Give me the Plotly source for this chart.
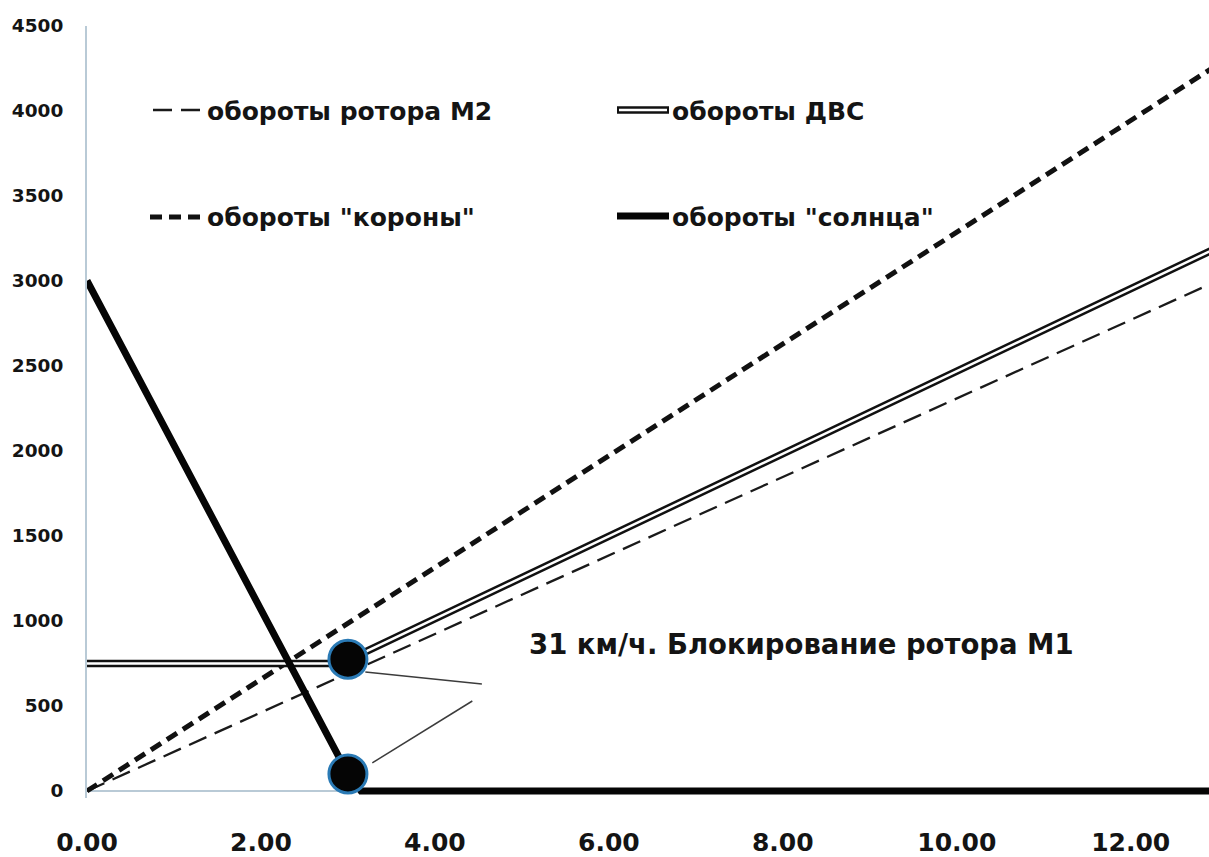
import plotly.graph_objects as go

# ---- data ----
m2_x = [0, 13]
m2_y = [0, 3000]
corona_x = [0, 13]
corona_y = [0, 4270]
ice_x = [0, 3, 3, 13]
ice_y = [750, 750, 770, 3195]
sun_x = [0, 3, 3.15, 13]
sun_y = [3000, 100, 0, 0]
point_x = [3, 3]
point_y = [775, 100]
x_ticks = [0, 2, 4, 6, 8, 10, 12]
y_ticks = [0, 500, 1000, 1500, 2000, 2500, 3000, 3500, 4000, 4500]
names = ["обороты ротора М2", "обороты ДВС", 'обороты "короны"', 'обороты "солнца"']
note_text = "31 км/ч. Блокирование ротора М1"

W, H = 1209, 857
FONT = "DejaVu Sans"
TXT = "#141414"
AX = "#b9cad6"

def X(px):
    return px / W

def Y(py):
    return 1 - py / H

fig = go.Figure()
fig.add_trace(go.Scatter(x=m2_x, y=m2_y, mode="lines", name=names[0], showlegend=False,
                         line=dict(color="#1a1a1a", width=2.3, dash="19px,9px")))
fig.add_trace(go.Scatter(x=corona_x, y=corona_y, mode="lines", name=names[2], showlegend=False,
                         line=dict(color="#111111", width=5, dash="12px,7px")))
fig.add_trace(go.Scatter(x=ice_x, y=ice_y, mode="lines", name=names[1], showlegend=False,
                         line=dict(color="#111111", width=7.5)))
fig.add_trace(go.Scatter(x=ice_x, y=ice_y, mode="lines", showlegend=False, hoverinfo="skip",
                         line=dict(color="white", width=2.5)))
fig.add_trace(go.Scatter(x=sun_x, y=sun_y, mode="lines", name=names[3], showlegend=False,
                         line=dict(color="#050505", width=7)))
fig.add_trace(go.Scatter(x=point_x, y=point_y, mode="markers", showlegend=False, cliponaxis=False,
                         marker=dict(symbol="circle", size=38, color="#050505",
                                     line=dict(color="#2a7ab5", width=3))))

shapes = []
# leader lines from the marked points to the note
leaders = [((3.2, 699), (4.54, 629)), ((3.28, 165), (4.43, 529))]
for (x0, y0), (x1, y1) in leaders:
    shapes.append(dict(type="line", xref="x", yref="y", x0=x0, y0=y0, x1=x1, y1=y1,
                       line=dict(color="#3c3c3c", width=1.5), layer="above"))

# manual legend (2 x 2)
shapes += [
    dict(type="line", xref="paper", yref="paper", x0=X(153), x1=X(203), y0=Y(110), y1=Y(110),
         line=dict(color="#1a1a1a", width=2.3, dash="19px,9px")),
    dict(type="line", xref="paper", yref="paper", x0=X(150), x1=X(203), y0=Y(217), y1=Y(217),
         line=dict(color="#111111", width=5, dash="12px,7px")),
    dict(type="line", xref="paper", yref="paper", x0=X(617), x1=X(669), y0=Y(110), y1=Y(110),
         line=dict(color="#111111", width=7.5)),
    dict(type="line", xref="paper", yref="paper", x0=X(619), x1=X(667), y0=Y(110), y1=Y(110),
         line=dict(color="white", width=2.5)),
    dict(type="line", xref="paper", yref="paper", x0=X(617), x1=X(669), y0=Y(216), y1=Y(216),
         line=dict(color="#050505", width=7)),
]

legend_pos = [(205, 111), (670, 111), (205, 217), (670, 217)]
annotations = []
for name, (px, py) in zip(names, legend_pos):
    annotations.append(dict(xref="paper", yref="paper", x=X(px), y=Y(py), text=name,
                            showarrow=False, xanchor="left", yanchor="middle",
                            font=dict(family=FONT, size=25, color=TXT, weight="bold")))
annotations.append(dict(xref="paper", yref="paper", x=X(527), y=Y(644), text=note_text,
                        showarrow=False, xanchor="left", yanchor="middle",
                        font=dict(family=FONT, size=27.5, color=TXT, weight="bold")))

fig.update_layout(
    width=W, height=H,
    margin=dict(l=0, r=0, t=0, b=0),
    paper_bgcolor="white", plot_bgcolor="white",
    showlegend=False,
    shapes=shapes, annotations=annotations,
    xaxis=dict(domain=[X(87), 1], range=[0, 12.9], tickvals=x_ticks, tickformat=".2f",
               showgrid=False, zeroline=False, showline=False, ticks="",
               ticklabelstandoff=27, automargin=False,
               tickfont=dict(family=FONT, size=25, color=TXT, weight="bold")),
    yaxis=dict(domain=[1 - 797.8 / H, 1 - 25.5 / H], range=[-40, 4500], tickvals=y_ticks,
               showgrid=False, zeroline=True, zerolinecolor=AX, zerolinewidth=2,
               showline=True, linecolor=AX, linewidth=2, ticks="",
               ticklabelstandoff=18, automargin=False,
               tickfont=dict(family=FONT, size=18.5, color=TXT, weight="bold")),
)

fig.write_html("out.html", config={"displayModeBar": False},
               post_script="document.body.style.margin='0';document.body.style.overflow='hidden';")
